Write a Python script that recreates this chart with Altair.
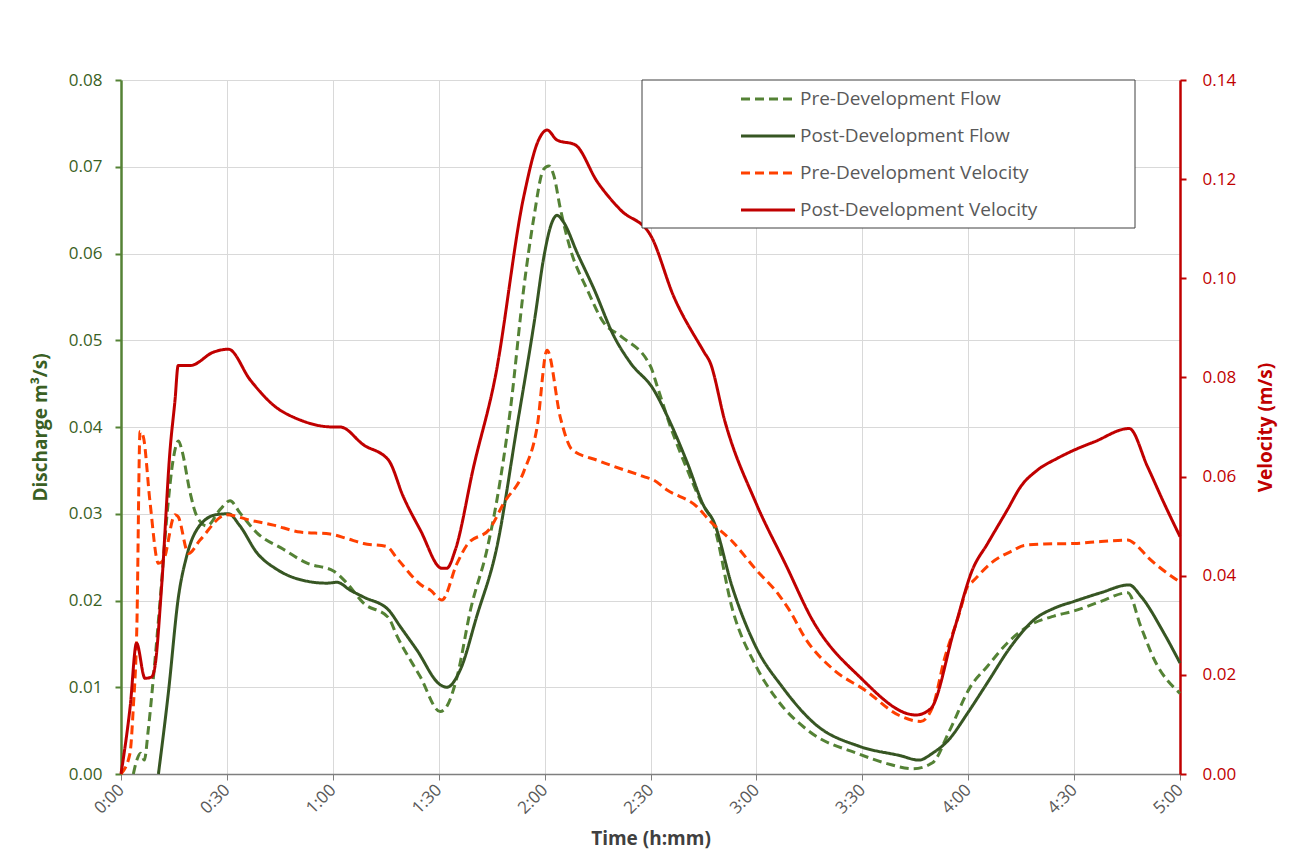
import altair as alt
import pandas as pd

# ---------------- data (minutes from 0:00) ----------------
series_names = ["Pre-Development Flow", "Post-Development Flow",
                "Pre-Development Velocity", "Post-Development Velocity"]
series_colors = ["#548235", "#375623", "#FF4000", "#C00000"]
series_dashes = [[9, 5], [1, 0], [9, 5], [1, 0]]

pre_flow_t = [3.5, 4.4, 5.6, 6.6, 7.7, 9.2, 11.1, 13.0, 14.8, 16.3, 17.2, 19.6, 21.5, 24.3, 28.1,
              30.9, 33.7, 38.5, 46.0, 52.7, 60.2, 64.0, 68.7, 75.8, 78.2, 84.8, 90.4, 92.3, 95.2,
              99.0, 103.7, 106.5, 110.3, 114.1, 116.9, 119.7, 121.2, 122.6, 124.5, 127.3, 132.0,
              136.8, 141.5, 150.0, 151.9, 155.6, 160.4, 164.2, 167.9, 173.2, 179.8, 186.0, 195.0,
              209.1, 217.0, 224.3, 229.9, 234.6, 240.7, 245.4, 251.1, 256.8, 264.3, 270.0, 277.6,
              285.2, 288.9, 292.7, 300.0]
pre_flow_q = [0.0, 0.0015, 0.0024, 0.0016, 0.005, 0.0112, 0.0201, 0.0297, 0.0363, 0.0384, 0.0374,
              0.0324, 0.0297, 0.0286, 0.0305, 0.0315, 0.0301, 0.0278, 0.0259, 0.0243, 0.0234, 0.022,
              0.0197, 0.018, 0.0159, 0.0112, 0.0072, 0.0078, 0.0112, 0.0189, 0.0259, 0.0316, 0.042,
              0.056, 0.064, 0.0697, 0.0701, 0.069, 0.0651, 0.0605, 0.0559, 0.052, 0.0505, 0.047,
              0.0447, 0.0401, 0.0351, 0.0315, 0.0287, 0.019, 0.0125, 0.0085, 0.0049, 0.0023, 0.0012,
              0.0006, 0.0013, 0.0049, 0.0101, 0.0124, 0.0151, 0.017, 0.0182, 0.0188, 0.0199, 0.0209,
              0.017, 0.0132, 0.0093]

post_flow_t = [10.6, 13.4, 16.3, 18.6, 22.4, 27.1, 30.4, 33.7, 38.5, 44.1, 50.8, 58.3, 61.2, 64.9,
               68.7, 75.8, 79.1, 83.8, 90.4, 92.3, 96.1, 100.8, 106.5, 112.2, 117.4, 119.7, 122.1,
               123.5, 125.4, 129.2, 134.0, 139.6, 144.3, 150.9, 154.7, 160.4, 165.1, 167.9, 173.2,
               179.8, 187.4, 196.8, 209.1, 220.9, 226.0, 229.9, 234.6, 239.8, 245.4, 252.1, 258.7,
               264.3, 270.0, 277.6, 285.6, 288.9, 295.5, 300.0]
post_flow_q = [0.0, 0.0093, 0.0205, 0.0251, 0.0287, 0.0299, 0.03, 0.0286, 0.0255, 0.0236, 0.0224,
               0.022, 0.0221, 0.0212, 0.0204, 0.0189, 0.017, 0.0143, 0.0103, 0.01, 0.012, 0.0182,
               0.0262, 0.0401, 0.053, 0.0594, 0.0636, 0.0644, 0.0636, 0.0601, 0.0559, 0.0505, 0.0474,
               0.0443, 0.0413, 0.0359, 0.0309, 0.0291, 0.0215, 0.0147, 0.01, 0.0057, 0.0032, 0.0021,
               0.0016, 0.0024, 0.004, 0.007, 0.0105, 0.0147, 0.0178, 0.0191, 0.0199, 0.0209, 0.0218,
               0.0205, 0.0162, 0.0128]

pre_vel_t = [0.0, 2.5, 3.5, 4.5, 5.4, 6.3, 8.2, 10.6, 12.0, 15.3, 16.2, 19.1, 22.4, 29.9, 36.6, 43.2,
             50.8, 59.2, 64.0, 68.7, 75.3, 78.2, 85.7, 87.6, 90.9, 95.2, 98.0, 104.6, 108.4, 114.1,
             117.9, 120.7, 124.5, 127.8, 134.9, 148.1, 150.9, 154.7, 163.2, 166.9, 173.2, 179.8,
             186.4, 189.3, 194.0, 201.6, 211.0, 220.5, 226.5, 229.9, 233.2, 237.5, 239.8, 241.2,
             246.4, 253.0, 255.8, 261.5, 270.0, 277.6, 285.2, 287.1, 290.8, 299.8]
pre_vel_v = [0.0, 0.004, 0.0136, 0.03, 0.0691, 0.0681, 0.055, 0.0425, 0.0431, 0.0523, 0.0519, 0.0445,
             0.0472, 0.0523, 0.0512, 0.0502, 0.0488, 0.0484, 0.0475, 0.0465, 0.0459, 0.0435, 0.0378,
             0.0371, 0.0351, 0.0425, 0.0462, 0.0496, 0.0546, 0.061, 0.0701, 0.0855, 0.0718, 0.0654,
             0.0633, 0.06, 0.0593, 0.0573, 0.0539, 0.051, 0.0469, 0.0413, 0.0361, 0.0331, 0.0272,
             0.0212, 0.0168, 0.0118, 0.0106, 0.0135, 0.023, 0.0324, 0.0378, 0.0388, 0.0425, 0.0452,
             0.0461, 0.0464, 0.0465, 0.0469, 0.0472, 0.0465, 0.0438, 0.0388]

post_vel_t = [0.0, 2.6, 4.4, 6.8, 8.7, 9.6, 11.5, 13.9, 15.3, 16.2, 19.6, 26.2, 30.4, 36.6, 43.2,
              50.8, 60.2, 62.1, 68.7, 75.8, 80.0, 84.8, 90.9, 92.3, 94.7, 99.9, 106.0, 114.1, 118.3,
              120.7, 123.5, 128.7, 134.9, 141.5, 150.0, 156.6, 165.1, 166.9, 171.1, 179.8, 188.4,
              196.0, 209.1, 225.2, 229.4, 236.0, 241.2, 245.5, 251.1, 254.9, 259.6, 265.3, 270.5,
              275.7, 285.6, 290.8, 295.5, 300.0]
post_vel_v = [0.0, 0.0136, 0.0264, 0.0193, 0.0196, 0.0216, 0.0378, 0.0654, 0.0754, 0.0824, 0.0824,
              0.0851, 0.0857, 0.0795, 0.0744, 0.0714, 0.07, 0.07, 0.0664, 0.0633, 0.0559, 0.0492,
              0.0415, 0.0415, 0.0452, 0.062, 0.08, 0.1165, 0.1279, 0.1299, 0.1279, 0.1269, 0.1195,
              0.1138, 0.1087, 0.0963, 0.0852, 0.083, 0.0711, 0.0548, 0.0421, 0.0309, 0.0197, 0.0119,
              0.0132, 0.029, 0.0412, 0.0465, 0.0533, 0.058, 0.0613, 0.0637, 0.0655, 0.067, 0.0697,
              0.062, 0.0546, 0.0479]

flow_ticks = [0.0, 0.01, 0.02, 0.03, 0.04, 0.05, 0.06, 0.07, 0.08]
vel_ticks = [0.0, 0.02, 0.04, 0.06, 0.08, 0.10, 0.12, 0.14]
time_ticks = [0, 30, 60, 90, 120, 150, 180, 210, 240, 270, 300]

flow_df = pd.concat([
    pd.DataFrame({"t": pre_flow_t, "q": pre_flow_q, "series": series_names[0]}),
    pd.DataFrame({"t": post_flow_t, "q": post_flow_q, "series": series_names[1]}),
])
vel_df = pd.concat([
    pd.DataFrame({"t": pre_vel_t, "v": pre_vel_v, "series": series_names[2]}),
    pd.DataFrame({"t": post_vel_t, "v": post_vel_v, "series": series_names[3]}),
])

FONT = "Open Sans"

legend = alt.Legend(orient="none", legendX=632, legendY=4, title=None,
                    symbolType="M-2,0H2", symbolSize=729, symbolStrokeWidth=3,
                    labelFont=FONT, labelFontSize=19, labelColor="#595959",
                    labelLimit=500, labelOffset=17, rowPadding=12, padding=0)

color = alt.Color("series:N", scale=alt.Scale(domain=series_names, range=series_colors),
                  legend=legend)
dash = alt.StrokeDash("series:N", scale=alt.Scale(domain=series_names, range=series_dashes),
                      legend=legend)

x_enc = alt.X("t:Q", scale=alt.Scale(domain=[0, 300], nice=False, zero=True),
              axis=alt.Axis(values=time_ticks,
                            labelExpr="floor(datum.value/60) + ':' + (datum.value % 60 < 10 ? '0' : '') + (datum.value % 60)",
                            title="Time (h:mm)", labelAngle=-45, labelAlign="right",
                            labelBaseline="middle", labelPadding=7,
                            labelColor="#595959", labelFontSize=17, labelFont=FONT,
                            titleColor="#404040", titleFontSize=19, titleFont=FONT,
                            titleFontWeight="bold", titlePadding=13,
                            domainColor="#7F7F7F", domainWidth=1.5,
                            tickColor="#7F7F7F", tickSize=6,
                            grid=True, gridColor="#D9D9D9", gridWidth=1))

flow = alt.Chart(flow_df).mark_line(strokeWidth=3, interpolate="monotone").encode(
    x=x_enc,
    y=alt.Y("q:Q", scale=alt.Scale(domain=[0, 0.08], nice=False),
            axis=alt.Axis(orient="left", values=flow_ticks, format=".2f",
                          title="Discharge m³/s)", labelColor="#3A5F24", labelFontSize=17,
                          labelFont=FONT, labelPadding=13,
                          titleColor="#3A5F24", titleFontSize=19, titleFont=FONT,
                          titleFontWeight="bold", titlePadding=18,
                          domainColor="#548235", domainWidth=2.5,
                          tickColor="#548235", tickWidth=2, tickSize=6,
                          grid=True, gridColor="#D9D9D9", gridWidth=1)),
    color=color, strokeDash=dash, detail="series:N",
)

vel = alt.Chart(vel_df).mark_line(strokeWidth=3, interpolate="monotone").encode(
    x=alt.X("t:Q"),
    y=alt.Y("v:Q", scale=alt.Scale(domain=[0, 0.14], nice=False),
            axis=alt.Axis(orient="right", values=vel_ticks, format=".2f",
                          title="Velocity (m/s)", titleAngle=270,
                          labelColor="#C00000", labelFontSize=17, labelFont=FONT,
                          labelPadding=16,
                          titleColor="#C00000", titleFontSize=19, titleFont=FONT,
                          titleFontWeight="bold", titlePadding=40,
                          domainColor="#C00000", domainWidth=2.5,
                          tickColor="#C00000", tickWidth=2, tickSize=6, grid=False)),
    color=color, strokeDash=dash, detail="series:N",
)

box = alt.Chart(pd.DataFrame({"k": [0]})).mark_rect(
    fill="white", stroke="#404040", strokeWidth=1
).encode(x=alt.value(521), x2=alt.value(1014), y=alt.value(0), y2=alt.value(148))

chart = alt.layer(flow, vel, box).resolve_scale(y="independent").properties(
    width=1059, height=694,
    autosize=alt.AutoSizeParams(type="none"),
    padding={"left": 113, "top": 72, "right": 101, "bottom": 80},
    background="white",
).configure_view(stroke=None)

chart.save("out.html", embed_options={"renderer": "svg", "actions": False})
